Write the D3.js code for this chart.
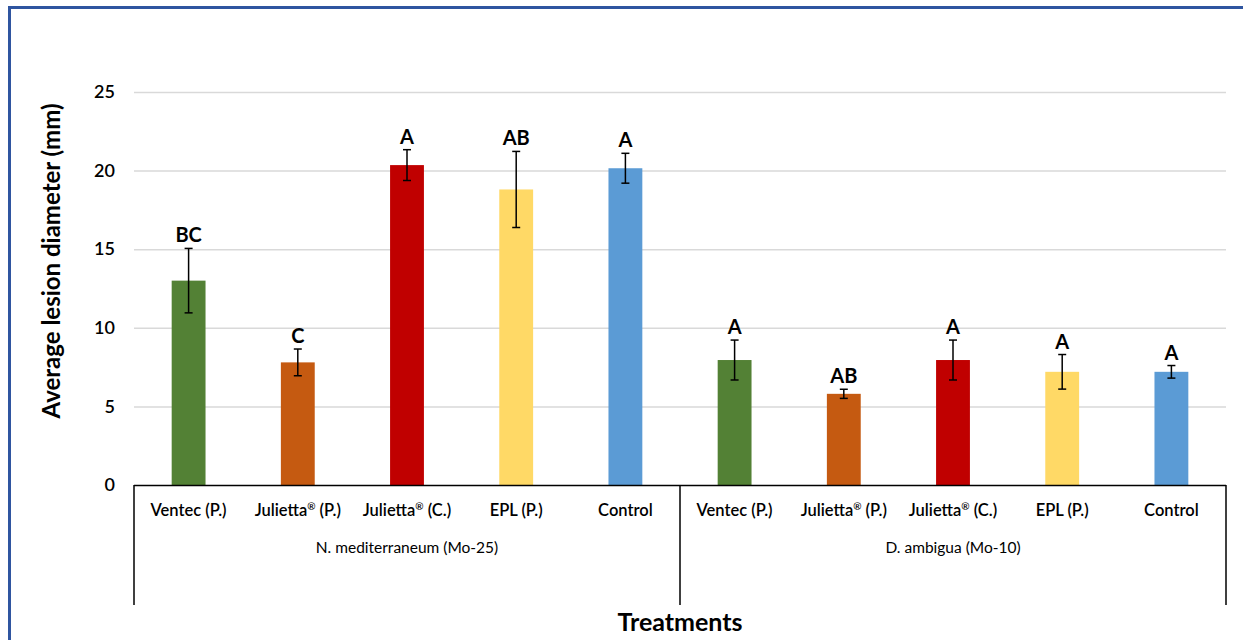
<!DOCTYPE html>
<html>
<head>
<meta charset="utf-8">
<script src="https://cdn.jsdelivr.net/npm/d3@7"></script>
<style>
  body { margin: 0; background: #fff; }
  svg { font-family: Lato, "Open Sans", sans-serif; }
</style>
</head>
<body>
<div id="chart"></div>
<script>
// categories and groups
var treatments = ["Ventec (P.)", "Julietta® (P.)", "Julietta® (C.)", "EPL (P.)", "Control"];
var groups = ["N. mediterraneum (Mo-25)", "D. ambigua (Mo-10)"];

// mean lesion diameter, error bar half-width, letters (per group)
var means = [
  [13.0, 7.8, 20.35, 18.8, 20.15],
  [7.95, 5.8, 7.95, 7.2, 7.2]
];
var errors = [
  [2.05, 0.85, 0.98, 2.42, 0.95],
  [1.27, 0.29, 1.27, 1.1, 0.4]
];
var letters = [
  ["BC", "C", "A", "AB", "A"],
  ["A", "AB", "A", "A", "A"]
];
var colors = ["#538135", "#c55a11", "#c00000", "#ffd966", "#5b9bd5"];
var yTicks = [0, 5, 10, 15, 20, 25];

var width = 1243;
var height = 640;

// plot area
var plotLeft = 134;
var plotRight = 1226;
var plotTop = 92;
var plotBottom = 485;
var axisBoxBottom = 605;

var svg = d3.select("#chart")
  .append("svg")
  .attr("width", width)
  .attr("height", height);

// outer frame (only top and left edges are visible)
svg.append("path")
  .attr("d", "M9.5," + height + " V7.5 H" + width)
  .attr("fill", "none")
  .attr("stroke", "#2f55a0")
  .attr("stroke-width", 3);

// flatten data
var data = [];
groups.forEach(function(g, gi) {
  treatments.forEach(function(t, ti) {
    data.push({
      key: gi + "-" + ti,
      group: gi,
      name: t,
      value: means[gi][ti],
      err: errors[gi][ti],
      letter: letters[gi][ti],
      color: colors[ti]
    });
  });
});

var xScale = d3.scaleBand()
  .domain(data.map(function(d) { return d.key; }))
  .range([plotLeft, plotRight])
  .paddingInner(0.69)
  .paddingOuter(0.345);

var yScale = d3.scaleLinear()
  .domain([0, 25])
  .range([plotBottom, plotTop]);

// gridlines
svg.append("g")
  .selectAll("line")
  .data(yTicks.slice(1))
  .enter()
  .append("line")
  .attr("x1", plotLeft)
  .attr("x2", plotRight)
  .attr("y1", function(d) { return yScale(d) + 0.5; })
  .attr("y2", function(d) { return yScale(d) + 0.5; })
  .attr("stroke", "#d9d9d9")
  .attr("stroke-width", 1.5);

// y axis tick labels
var yAxis = d3.axisLeft(yScale)
  .tickValues(yTicks)
  .tickSize(0)
  .tickPadding(19);

var yG = svg.append("g")
  .attr("transform", "translate(" + plotLeft + ",0)")
  .call(yAxis);
yG.select(".domain").remove();
yG.selectAll("text")
  .attr("font-size", 18)
  .attr("font-weight", 600)
  .attr("font-family", "Lato, sans-serif")
  .attr("fill", "#000");

// bars
svg.append("g")
  .selectAll("rect")
  .data(data)
  .enter()
  .append("rect")
  .attr("x", function(d) { return xScale(d.key); })
  .attr("y", function(d) { return yScale(d.value); })
  .attr("width", xScale.bandwidth())
  .attr("height", function(d) { return plotBottom - yScale(d.value); })
  .attr("fill", function(d) { return d.color; });

// error bars
var errG = svg.append("g")
  .attr("stroke", "#000")
  .attr("stroke-width", 1.5);
data.forEach(function(d) {
  var cx = xScale(d.key) + xScale.bandwidth() / 2;
  var y1 = yScale(d.value + d.err);
  var y2 = yScale(d.value - d.err);
  errG.append("line").attr("x1", cx).attr("x2", cx).attr("y1", y1).attr("y2", y2);
  errG.append("line").attr("x1", cx - 4).attr("x2", cx + 4).attr("y1", y1).attr("y2", y1);
  errG.append("line").attr("x1", cx - 4).attr("x2", cx + 4).attr("y1", y2).attr("y2", y2);
});

// significance letters
svg.append("g")
  .selectAll("text")
  .data(data)
  .enter()
  .append("text")
  .attr("x", function(d) { return xScale(d.key) + xScale.bandwidth() / 2; })
  .attr("y", function(d) { return yScale(d.value + d.err) - 6; })
  .attr("text-anchor", "middle")
  .attr("font-size", 20)
  .attr("font-weight", "bold")
  .attr("fill", "#000")
  .text(function(d) { return d.letter; });

// category axis box
var groupWidth = (plotRight - plotLeft) / groups.length;
var axisG = svg.append("g")
  .attr("stroke", "#000")
  .attr("stroke-width", 1.5);
axisG.append("line")
  .attr("x1", plotLeft).attr("x2", plotRight)
  .attr("y1", plotBottom + 0.5).attr("y2", plotBottom + 0.5);
d3.range(groups.length + 1).forEach(function(i) {
  var x = plotLeft + i * groupWidth;
  axisG.append("line")
    .attr("x1", x).attr("x2", x)
    .attr("y1", plotBottom).attr("y2", axisBoxBottom);
});

// treatment labels (® drawn as a small superscript)
var catText = svg.append("g")
  .selectAll("text")
  .data(data)
  .enter()
  .append("text")
  .attr("x", function(d) { return xScale(d.key) + xScale.bandwidth() / 2; })
  .attr("y", 516)
  .attr("text-anchor", "middle")
  .attr("font-size", 16.5)
  .attr("font-weight", 600)
  .attr("fill", "#000");

catText.each(function(d) {
  var t = d3.select(this);
  var parts = d.name.split("®");
  t.append("tspan").text(parts[0]);
  if (parts.length > 1) {
    t.append("tspan")
      .attr("font-size", 10)
      .attr("dy", -6)
      .text("®");
    t.append("tspan")
      .attr("dy", 6)
      .text(parts[1]);
  }
});

// group labels
svg.append("g")
  .selectAll("text")
  .data(groups)
  .enter()
  .append("text")
  .attr("x", function(d, i) { return plotLeft + (i + 0.5) * groupWidth; })
  .attr("y", 553)
  .attr("text-anchor", "middle")
  .attr("font-size", 15.5)
  .attr("fill", "#000")
  .text(function(d) { return d; });

// axis titles
svg.append("text")
  .attr("x", (plotLeft + plotRight) / 2)
  .attr("y", 631)
  .attr("text-anchor", "middle")
  .attr("font-size", 25)
  .attr("font-weight", "bold")
  .attr("fill", "#000")
  .text("Treatments");

svg.append("text")
  .attr("transform", "translate(60,261)rotate(-90)")
  .attr("text-anchor", "middle")
  .attr("font-size", 24)
  .attr("font-weight", "bold")
  .attr("fill", "#000")
  .text("Average lesion diameter (mm)");
</script>
</body>
</html>
